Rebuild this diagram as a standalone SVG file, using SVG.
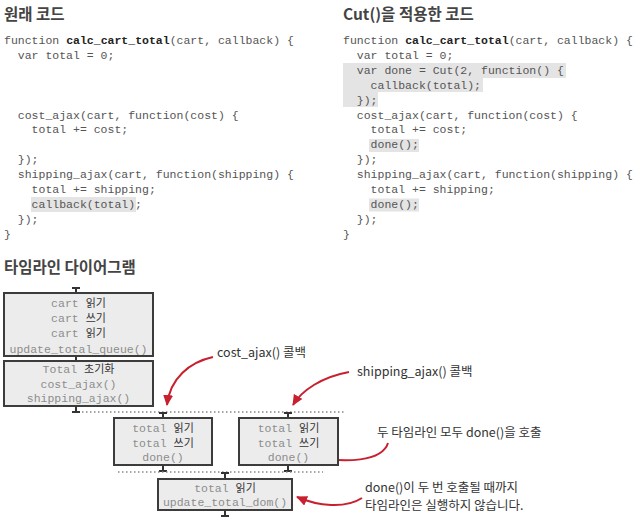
<svg xmlns="http://www.w3.org/2000/svg" width="640" height="522" viewBox="0 0 640 522">
<defs>
<style>
.title{font-family:"Noto Sans CJK KR","Noto Sans",sans-serif;font-weight:bold;font-size:15.5px;fill:#444}
.code{font-family:"Liberation Mono","DejaVu Sans Mono",monospace;font-size:11.5px;fill:#555;white-space:pre}
.fn{font-weight:bold;fill:#222}
.hl{fill:#e4e4e4}
.box{fill:#ececec;stroke:#3c3c3c;stroke-width:2}
.bt{font-family:"Liberation Mono","DejaVu Sans Mono",monospace;font-size:11.5px;fill:#8c8c8c;text-anchor:middle}
.ko{font-family:"Noto Sans CJK KR",sans-serif;font-size:11px;fill:#333}
.tl{stroke:#333;stroke-width:2;fill:none}
.dot{stroke:#888;stroke-width:1.5;stroke-dasharray:1.5 2.5;fill:none}
.ann{font-family:"Noto Sans CJK KR","Noto Sans",sans-serif;font-size:12.5px;fill:#333}
.arr{stroke:#c8202f;stroke-width:2;fill:none;marker-end:url(#ah)}
</style>
<marker id="ah" markerUnits="userSpaceOnUse" markerWidth="12" markerHeight="10" refX="10" refY="5" orient="auto">
<path d="M0,0 L11,5 L0,10 Z" fill="#c8202f"/>
</marker>
</defs>

<g id="code-original">
<text class="title" x="4" y="20">원래 코드</text>
<rect class="hl" x="31" y="197" width="105" height="15"/>
<text class="code" x="4" y="44">function <tspan class="fn">calc_cart_total</tspan>(cart, callback) {</text>
<text class="code" x="17.8" y="58.9">var total = 0;</text>
<text class="code" x="17.8" y="118.5">cost_ajax(cart, function(cost) {</text>
<text class="code" x="31.6" y="133.4">total += cost;</text>
<text class="code" x="17.8" y="163.2">});</text>
<text class="code" x="17.8" y="178.1">shipping_ajax(cart, function(shipping) {</text>
<text class="code" x="31.6" y="193">total += shipping;</text>
<text class="code" x="31.6" y="207.9">callback(total);</text>
<text class="code" x="17.8" y="222.8">});</text>
<text class="code" x="4" y="237.7">}</text>
</g>

<g id="code-cut">
<text class="title" x="343" y="20">Cut()을 적용한 코드</text>
<path class="hl" d="M343,63 H566 V78 H483 V92 H378 V107 H343 Z"/>
<rect class="hl" x="369" y="139" width="50" height="13"/>
<rect class="hl" x="369" y="198.5" width="50" height="13"/>
<text class="code" x="343" y="44">function <tspan class="fn">calc_cart_total</tspan>(cart, callback) {</text>
<text class="code" x="356.8" y="58.9">var total = 0;</text>
<text class="code" x="356.8" y="73.8">var done = Cut(2, function() {</text>
<text class="code" x="370.6" y="88.7">callback(total);</text>
<text class="code" x="356.8" y="103.6">});</text>
<text class="code" x="356.8" y="118.5">cost_ajax(cart, function(cost) {</text>
<text class="code" x="370.6" y="133.4">total += cost;</text>
<text class="code" x="370.6" y="148.3">done();</text>
<text class="code" x="356.8" y="163.2">});</text>
<text class="code" x="356.8" y="178.1">shipping_ajax(cart, function(shipping) {</text>
<text class="code" x="370.6" y="193">total += shipping;</text>
<text class="code" x="370.6" y="207.9">done();</text>
<text class="code" x="356.8" y="222.8">});</text>
<text class="code" x="343" y="237.7">}</text>
</g>

<text class="title" x="4" y="273">타임라인 다이어그램</text>

<g id="connectors">
<path class="tl" d="M72,288 H80 M76,288 V293 M76,356 V361 M76,406 V412 M72,412 H80"/>
<path class="dot" d="M82,412 H345"/>
<path class="tl" d="M159,413 H167 M163,413 V418 M163,465 V471 M159,471 H167"/>
<path class="tl" d="M284,413 H292 M288,413 V418 M288,465 V471 M284,471 H292"/>
<path class="dot" d="M118,472 H323"/>
<path class="tl" d="M221,473 H229 M225,473 V479 M225,510 V516 M221,516 H229"/>
<path class="arr" d="M213,357 C190,362 170,378 167,405"/>
<path class="arr" d="M349,372 C322,377 302,390 293,405"/>
<path class="arr" d="M388,443 C382,462 345,463 313,457"/>
<path class="arr" d="M362,498 C345,509 318,506 297,497"/>
</g>

<g id="box-init">
<rect class="box" x="4" y="293" width="149" height="63"/>
<text class="bt" x="78.5" y="307">cart <tspan class="ko">읽기</tspan></text>
<text class="bt" x="78.5" y="322">cart <tspan class="ko">쓰기</tspan></text>
<text class="bt" x="78.5" y="337">cart <tspan class="ko">읽기</tspan></text>
<text class="bt" x="78.5" y="352.5">update_total_queue()</text>
</g>

<g id="box-calc">
<rect class="box" x="4" y="361" width="149" height="45"/>
<text class="bt" x="78.5" y="373">Total <tspan class="ko">초기화</tspan></text>
<text class="bt" x="78.5" y="388">cost_ajax()</text>
<text class="bt" x="78.5" y="402">shipping_ajax()</text>
</g>

<g id="box-cost">
<rect class="box" x="114" y="418" width="98" height="47"/>
<text class="bt" x="163" y="432">total <tspan class="ko">읽기</tspan></text>
<text class="bt" x="163" y="447">total <tspan class="ko">쓰기</tspan></text>
<text class="bt" x="163" y="461">done()</text>
</g>

<g id="box-shipping">
<rect class="box" x="239" y="418" width="99" height="47"/>
<text class="bt" x="288.5" y="432">total <tspan class="ko">읽기</tspan></text>
<text class="bt" x="288.5" y="447">total <tspan class="ko">쓰기</tspan></text>
<text class="bt" x="288.5" y="461">done()</text>
</g>

<g id="box-dom">
<rect class="box" x="158" y="479" width="134" height="31"/>
<text class="bt" x="225" y="492">total <tspan class="ko">읽기</tspan></text>
<text class="bt" x="225" y="506">update_total_dom()</text>
</g>

<g id="annotations">
<text class="ann" x="217" y="357">cost_ajax() 콜백</text>
<text class="ann" x="357" y="376">shipping_ajax() 콜백</text>
<text class="ann" x="377" y="437">두 타임라인 모두 done()을 호출</text>
<text class="ann" x="365" y="492">done()이 두 번 호출될 때까지</text>
<text class="ann" x="365" y="510">타임라인은 실행하지 않습니다.</text>
</g>
</svg>
